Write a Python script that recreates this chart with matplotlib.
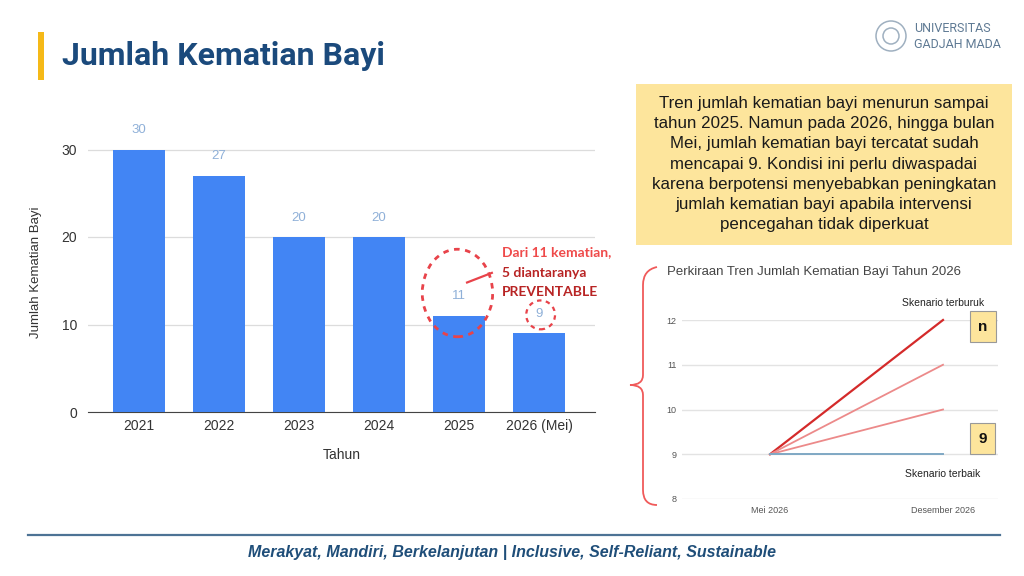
import numpy as np
import matplotlib
matplotlib.use("Agg")
import matplotlib.pyplot as plt
from matplotlib.patches import Rectangle, Ellipse, PathPatch
from matplotlib.path import Path

# data
years = ["2021", "2022", "2023", "2024", "2025", "2026 (Mei)"]
deaths = [30, 27, 20, 20, 11, 9]

trend_x = ["Mei 2026", "Desember 2026"]
trend_start = 9
trend_ends = [12, 11, 10, 9]

W, H = 1024, 576
SANS = "Liberation Sans"


def fx(x):
    return x / W


def fy(y):
    return 1 - y / H


fig = plt.figure(figsize=(10.24, 5.76), dpi=100)
fig.patch.set_facecolor("white")

# ---- header
fig.add_artist(Rectangle((fx(38), fy(80)), fx(6), 48 / H, transform=fig.transFigure,
                         color="#f5b918", lw=0))
fig.text(fx(62), fy(56), "Jumlah Kematian Bayi", fontsize=23, fontweight="bold",
         family="Roboto", color="#1b4a7c", va="center", ha="left")

# logo
for r in (15, 8):
    fig.add_artist(Ellipse((fx(891), fy(36)), 2 * r / W, 2 * r / H,
                           transform=fig.transFigure, fill=False, ec="#9fb0c0", lw=1.1))
fig.text(fx(914), fy(29), "UNIVERSITAS", fontsize=9, color="#5f7a94", va="center",
         family="Roboto")
fig.text(fx(914), fy(44), "GADJAH MADA", fontsize=9, color="#5f7a94", va="center",
         family="Roboto")

# ---- bar chart
ax = fig.add_axes([fx(88), fy(412), (595 - 88) / W, (412 - 132) / H])
x = np.arange(len(years))
ax.bar(x, deaths, width=0.65, color="#4285f4", zorder=3)
ax.set_xlim(-0.64, 5.7)
ax.set_ylim(0, 32)
ax.set_yticks([0, 10, 20, 30])
ax.set_xticks(x)
ax.set_xticklabels(years, family=SANS)
ax.set_yticklabels(["0", "10", "20", "30"], family=SANS)
ax.grid(axis="y", color="#dcdcdc", lw=0.9, zorder=0)
for s in ["top", "right", "left"]:
    ax.spines[s].set_visible(False)
ax.spines["bottom"].set_color("#444444")
ax.tick_params(axis="both", length=0, labelsize=10, colors="#333333", pad=5)
ax.tick_params(axis="y", pad=8)
ax.set_xlabel("Tahun", fontsize=10, color="#333333", labelpad=11, family=SANS)
ax.set_ylabel("Jumlah Kematian Bayi", fontsize=9.5, color="#333333", labelpad=14,
              family=SANS)
for xi, v in zip(x, deaths):
    ax.annotate(str(v), (xi, v), xytext=(0, 14), textcoords="offset points",
                ha="center", va="center", fontsize=9.5, color="#8fb0d8",
                family=SANS, annotation_clip=False)

# highlight circles
ax.add_patch(Ellipse((3.98, 13.6), 0.88, 10.0, fill=False, ec="#e8434a", lw=2,
                     ls=(0, (2, 2)), zorder=5, clip_on=False))
ax.add_patch(Ellipse((5.02, 11.1), 0.36, 3.3, fill=False, ec="#e8434a", lw=1.6,
                     ls=(0, (2, 2)), zorder=5, clip_on=False))
ax.plot([4.1, 4.41], [14.8, 15.9], color="#e8434a", lw=1.6, clip_on=False, zorder=5)

fig.text(fx(502), fy(252), "Dari 11 kematian,", fontsize=10, fontweight="bold",
         family="Lato", color="#ef4a4a", va="center")
fig.text(fx(502), fy(273), "5 diantaranya", fontsize=10, fontweight="bold",
         family="Lato", color="#b82424", va="center")
fig.text(fx(502), fy(292), "PREVENTABLE", fontsize=10, fontweight="bold",
         family="Lato", color="#b82424", va="center")

# ---- text box
fig.add_artist(Rectangle((fx(636), fy(245)), (1012 - 636) / W, (245 - 84) / H,
                         transform=fig.transFigure, color="#fde59c", lw=0))
box_text = ("Tren jumlah kematian bayi menurun sampai\n"
            "tahun 2025. Namun pada 2026, hingga bulan\n"
            "Mei, jumlah kematian bayi tercatat sudah\n"
            "mencapai 9. Kondisi ini perlu diwaspadai\n"
            "karena berpotensi menyebabkan peningkatan\n"
            "jumlah kematian bayi apabila intervensi\n"
            "pencegahan tidak diperkuat")
fig.text(fx(824), fy(164), box_text, fontsize=12.2, family=SANS,
         color="#1a1a1a", ha="center", va="center", linespacing=1.42)

# ---- brace
verts = [(657, 267), (643, 270), (643, 285), (643, 300),
         (643, 350), (643, 375), (643, 385), (630, 385),
         (643, 385), (643, 395), (643, 420),
         (643, 490), (643, 505), (657, 505)]
verts = [(fx(a), fy(b)) for a, b in verts]
codes = [Path.MOVETO, Path.CURVE3, Path.CURVE3, Path.LINETO,
         Path.LINETO, Path.LINETO, Path.CURVE3, Path.CURVE3,
         Path.CURVE3, Path.CURVE3, Path.LINETO,
         Path.LINETO, Path.CURVE3, Path.CURVE3]
fig.add_artist(PathPatch(Path(verts, codes), transform=fig.transFigure, fill=False,
                         ec="#f05a5a", lw=1.3))

# ---- trend chart
fig.text(fx(667), fy(272), "Perkiraan Tren Jumlah Kematian Bayi Tahun 2026",
         fontsize=9.5, color="#444444", va="center", family=SANS)
ax2 = fig.add_axes([fx(682), fy(499), (998 - 682) / W, (499 - 320) / H])
ax2.set_xlim(-0.509, 1.318)
ax2.set_ylim(8, 12)
ax2.set_yticks([8, 9, 10, 11, 12])
ax2.set_xticks([0, 1])
ax2.set_xticklabels(trend_x, family=SANS)
ax2.set_yticklabels(["8", "9", "10", "11", "12"], family=SANS)
ax2.grid(axis="y", color="#e3e3e3", lw=1.0, zorder=0)
for s in ax2.spines.values():
    s.set_visible(False)
ax2.tick_params(axis="both", length=0, labelsize=6.5, colors="#555555")
ax2.tick_params(axis="x", pad=5)
ax2.tick_params(axis="y", pad=4)
line_colors = ["#d42a2a", "#ec8a8a", "#ec8a8a", "#7fa8c4"]
line_widths = [1.6, 1.3, 1.3, 1.4]
for end, c, lw in zip(trend_ends, line_colors, line_widths):
    ax2.plot([0, 1], [trend_start, end], color=c, lw=lw, zorder=3, clip_on=False)

ax2.text(1, 12.38, "Skenario terburuk", fontsize=7.5, color="#222222", ha="center",
         va="center", family=SANS)
ax2.text(1, 8.55, "Skenario terbaik", fontsize=7.5, color="#222222", ha="center",
         va="center", family=SANS)
for yv, lab in [(11.85, "n"), (9.35, "9")]:
    ax2.text(1.23, yv, lab, fontsize=11, fontweight="bold", color="#111111",
             ha="center", va="center", family=SANS,
             bbox=dict(boxstyle="square,pad=0.55", fc="#fde59c", ec="#999999", lw=0.8))

# ---- footer
fig.add_artist(plt.Line2D([fx(28), fx(1000)], [fy(535), fy(535)],
                          transform=fig.transFigure, color="#4d7395", lw=1.6))
fig.text(0.5, fy(553), "Merakyat, Mandiri, Berkelanjutan | Inclusive, Self-Reliant, Sustainable",
         fontsize=11.5, fontweight="bold", style="italic", family=SANS,
         color="#1f4e79", ha="center", va="center")

fig.savefig("out.png", dpi=100)
